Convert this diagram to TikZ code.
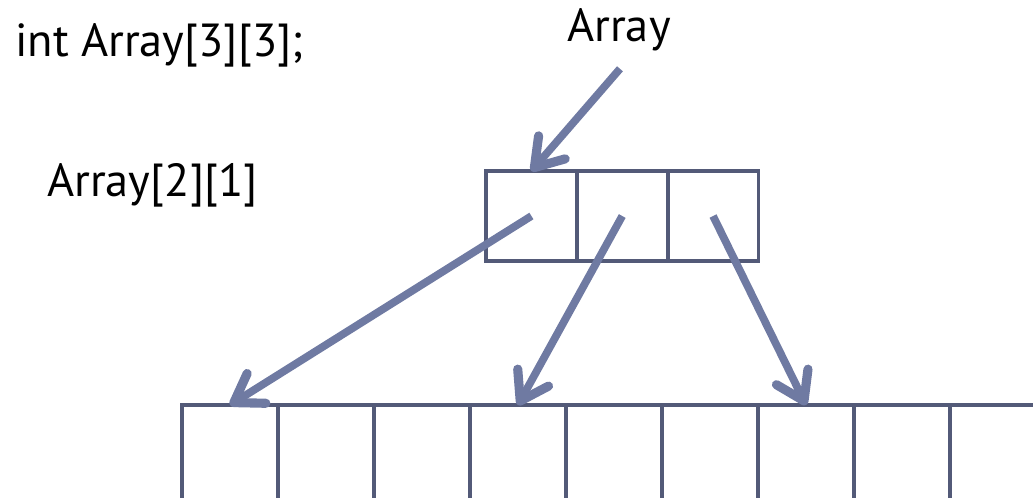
\documentclass[tikz,border=0pt]{standalone}
\usepackage{fontspec}
\setmainfont{PT Sans}
\usetikzlibrary{arrows.meta,positioning}
\definecolor{boxline}{HTML}{535A78}
\definecolor{ptrline}{HTML}{6F7AA2}
\tikzset{
  cellbox/.style={draw=boxline, line width=2.8pt, inner sep=0pt, outer sep=0pt,
    minimum width=2.4cm, minimum height=3cm, anchor=north west},
  ptrbox/.style={draw=boxline, line width=2.8pt, inner sep=0pt, outer sep=0pt,
    minimum width=2.27cm, minimum height=2.25cm, anchor=north west},
  ptr/.style={draw=ptrline, line width=5.5pt,
    -{Straight Barb[length=19pt, width=25pt, line width=6.5pt, round]}},
  lbl/.style={inner sep=0pt, anchor=base west, font=\fontsize{33}{40}\selectfont}
}
\begin{document}
\begin{tikzpicture}[x=0.025cm, y=-0.025cm]
\useasboundingbox (0,0) rectangle (1033,498);
\clip (0,0) rectangle (1033,498);
% labels
\node[lbl] (decl) at (15,57) {int Array[3][3];};
\node[lbl] (name) at (567,42) {Array};
\node[lbl] (elem) at (47,197) {Array[2][1]};
% row pointers
\node[ptrbox] (p0) at (486,171) {};
\node[ptrbox, right=0pt of p0] (p1) {};
\node[ptrbox, right=0pt of p1] (p2) {};
% element cells
\foreach \i in {0,...,9}
  \node[cellbox] (c\i) at (182+96*\i,405) {};
% arrows
\draw[ptr] (name.south) ++(1,17) coordinate (from) -- (p0.north);
\draw[ptr] (p0.center) -- (c0.north);
\draw[ptr] (p1.center) -- (c3.north);
\draw[ptr] (p2.center) -- (c6.north);
\end{tikzpicture}
\end{document}
